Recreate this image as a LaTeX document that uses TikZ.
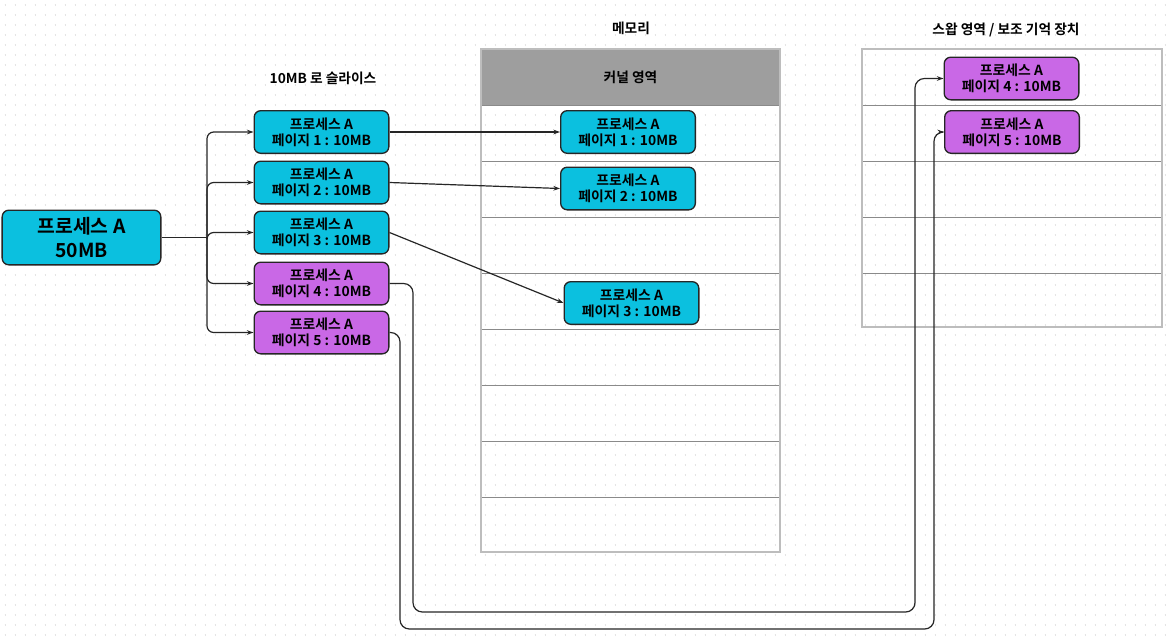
\documentclass[tikz,border=0pt]{standalone}
\usepackage{fontspec}
\setmainfont{Noto Sans CJK KR}[BoldFont={* Bold}]
\usetikzlibrary{arrows.meta}
\definecolor{cyanbox}{HTML}{0BC0DF}
\definecolor{purplebox}{HTML}{C968E6}
\definecolor{hdrgray}{HTML}{9E9E9E}
\definecolor{gridline}{HTML}{8A8A8A}
\definecolor{tblborder}{HTML}{BDBDBD}
\definecolor{dotc}{HTML}{E4E4E4}
\tikzset{
  pagebox/.style={draw=black!85, line width=1pt, rounded corners=5pt, align=center,
    minimum width=101pt, minimum height=32pt, inner sep=1pt,
    font=\bfseries\fontsize{10.4}{12}\selectfont},
  cyanpage/.style={pagebox, fill=cyanbox},
  purplepage/.style={pagebox, fill=purplebox},
  bigbox/.style={draw=black!85, line width=1pt, rounded corners=5pt, align=center, fill=cyanbox,
    minimum width=119pt, minimum height=41pt, inner sep=1pt,
    font=\bfseries\fontsize{14.5}{17.5}\selectfont},
  title/.style={font=\bfseries\fontsize{10.3}{12}\selectfont, inner sep=0pt},
  conn/.style={draw=black!85, line width=0.9pt, -{Stealth[length=5pt,width=3.5pt]}},
  rowline/.style={draw=gridline, line width=0.6pt},
  tblframe/.style={draw=tblborder, line width=0.8pt},
  dotrow/.style={draw=dotc, line width=1pt, dash pattern=on 0.8pt off 6.7pt},
}
\begin{document}
\begin{tikzpicture}[x=0.75pt,y=-0.75pt]
\useasboundingbox (0,0) rectangle (1168,643);
\fill[white] (0,0) rectangle (1168,643);
% dot grid
\foreach \j in {0,...,64} {
  \draw[dotrow] (4.5,\j*10+5) -- (1168,\j*10+5);
}
% memory table
\fill[hdrgray] (481,49) rectangle (780,105);
\foreach \yy in {105,161,217,273,329,385,441,497} { \draw[rowline] (481,\yy) -- (780,\yy); }
\draw[tblframe] (481,49) rectangle (780,552);
\node[title] at (630.5,77) {커널 영역};
\node[title] (memt) at (631,28) {메모리};
% swap table
\foreach \yy in {105,161,217,273} { \draw[rowline] (862,\yy) -- (1162,\yy); }
\draw[tblframe] (862,49) rectangle (1162,327);
\node[title] (swapt) at (1006,30) {스왑 영역 / 보조 기억 장치};
\node[title] (slicet) at (323,78) {10MB 로 슬라이스};
% big node
\node[bigbox] (big) at (81.5,237.5) {프로세스 A\\50MB};
% left pages
\node[cyanpage] (p1) at (321.5,132) {프로세스 A\\페이지 1 : 10MB};
\node[cyanpage] (p2) at (321.5,182.5) {프로세스 A\\페이지 2 : 10MB};
\node[cyanpage] (p3) at (321.5,232.5) {프로세스 A\\페이지 3 : 10MB};
\node[purplepage] (p4) at (321.5,283.5) {프로세스 A\\페이지 4 : 10MB};
\node[purplepage] (p5) at (321.5,332.5) {프로세스 A\\페이지 5 : 10MB};
% memory pages
\node[cyanpage] (m1) at (628,132) {프로세스 A\\페이지 1 : 10MB};
\node[cyanpage] (m2) at (628,188.5) {프로세스 A\\페이지 2 : 10MB};
\node[cyanpage] (m3) at (631.5,303) {프로세스 A\\페이지 3 : 10MB};
% swap pages
\node[purplepage] (s4) at (1011.5,78.5) {프로세스 A\\페이지 4 : 10MB};
\node[purplepage] (s5) at (1012,132) {프로세스 A\\페이지 5 : 10MB};
% branch connectors
\coordinate (split) at (207,237.5);
\draw[draw=black!85, line width=0.9pt] (big.east) -- (split);
\foreach \p in {p1,p2,p3,p4,p5} {
  \draw[conn, rounded corners=5pt] (split) |- (\p.west);
}
% to memory
\draw[conn] (p1.east) -- (m1.west);
\draw[conn] (p2.east) -- (m2.west);
\draw[conn] (p3.east) -- (m3.west);
% to swap
\draw[conn, rounded corners=7pt] (p4.east) -- (413,283.5) -- (413,612) -- (915,612) -- (915,78.5) -- (s4.west);
\draw[conn, rounded corners=7pt] (p5.east) -- (400,332.5) -- (400,629) -- (934,629) -- (934,132) -- (s5.west);
\end{tikzpicture}
\end{document}
